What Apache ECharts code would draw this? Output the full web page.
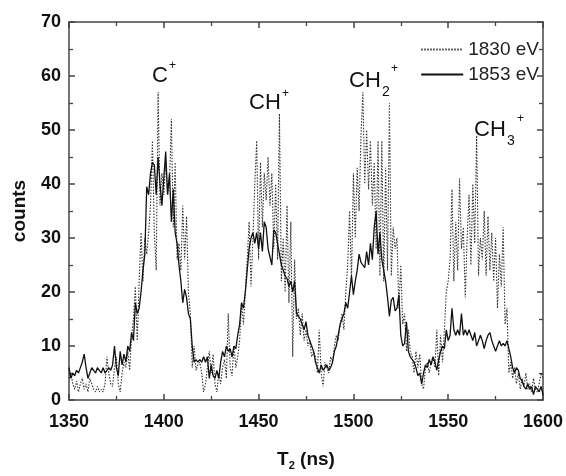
<!DOCTYPE html>
<html>
<head>
<meta charset="utf-8">
<script src="https://cdn.jsdelivr.net/npm/echarts@6/dist/echarts.min.js"></script>
<style>html,body{margin:0;padding:0;background:#fff}#c{width:566px;height:476px}</style>
</head>
<body>
<div id="c"></div>
<script>
// time grid: 1 ns steps from 1350 to 1600
var tStart = 1350;
var tStep = 1;

// 1830 eV (dotted)
var counts1830 = [
  4, 5, 3, 2, 3.5, 1.5, 3, 4, 2, 3,
  1.5, 4, 3, 2, 1.5, 2.5, 1.5, 2, 1.5, 3,
  8, 5, 3, 2.5, 6, 8, 3, 1.5, 5, 7,
  6, 9, 5.5, 12, 15, 21, 11, 22, 31, 22,
  30, 27, 31, 36, 48, 31, 24, 57, 36, 42,
  38, 44, 38, 40, 52, 32, 44, 26, 29, 24,
  36, 26, 34, 20, 16, 6, 10, 5.5, 6.5, 7,
  5, 1.5, 3, 6, 9, 5, 8.5, 3, 1.5, 5,
  3, 6, 7.5, 4, 16, 6, 4.5, 10, 6, 8,
  11, 18, 14, 20, 26, 33, 21, 30, 40, 48,
  26, 44, 32, 42, 37, 45, 36, 42, 28, 40,
  26, 53, 22, 30, 20, 36, 18, 33, 8, 26,
  15, 17, 12, 16, 11, 13, 10, 11, 8, 9,
  8, 5, 13, 5, 2.5, 7, 6, 5, 8, 7,
  10, 12, 11, 14, 16, 13, 20, 25, 35, 22,
  42, 30, 43, 35, 49, 57, 40, 50, 39, 48,
  36, 44, 28, 48, 23, 48, 22, 43, 24, 55,
  23, 32, 28, 30, 17, 25, 14, 16, 9, 13,
  9, 8, 5, 9, 6, 8.5, 3, 2, 6, 7,
  5, 7, 8, 6, 13, 4.5, 12, 7, 13, 20,
  22, 26, 39, 22, 33, 24, 41, 28, 32, 19,
  30, 38, 25, 40, 29, 49, 23, 30, 26, 35,
  23, 34, 24, 31, 22, 30, 17, 27, 21, 32,
  14, 17, 5, 7, 4, 6, 3, 5, 2, 4,
  2.5, 5, 2, 3, 1.5, 4, 2, 1.5, 3, 5,
  4
];

// 1853 eV (solid)
var counts1853 = [
  6, 4, 5, 4.5, 5.5, 5, 6, 7, 8.5, 6,
  4, 5, 6, 5.5, 5, 6, 5.5, 5, 6, 5,
  5.5, 6, 5.5, 6.5, 10, 6, 4.5, 9, 6.5, 8.5,
  7, 10, 9, 12.5, 11, 18, 16, 17, 20, 24,
  27, 39.5, 38, 42, 44, 43.5, 38, 45, 40, 36,
  41, 46, 38, 42, 33, 39, 31, 29, 25, 22,
  18, 20.5, 19, 16, 15, 10, 7, 7.5, 7, 7.5,
  7, 8, 7, 8, 4, 6.5, 4.5, 4, 5.5, 4,
  7, 9, 8, 10, 9, 9.5, 8, 10, 9.5, 12,
  14, 18, 17, 20, 24, 28, 30, 31, 29, 31,
  28, 31, 27.5, 33, 32, 28, 28, 25, 31.5, 31,
  31, 27, 25, 24, 23, 22.5, 21, 22, 20, 22,
  16, 15.5, 15, 14, 13, 14.5, 12, 11, 10, 9,
  7, 6, 5, 6.5, 5.5, 6, 6.5, 5.5, 6, 7,
  9, 10, 12, 14, 15, 16, 18, 17, 20, 23,
  19.5, 22, 24, 27, 25.5, 25, 24.5, 27.5, 25, 29,
  26, 32, 35, 27, 31, 26, 24, 22, 19, 15.5,
  18.5, 19, 16.5, 17, 19.5, 12, 10, 10.5, 14.5, 9,
  8, 7.5, 7, 6, 4.5, 5, 3, 5, 6.5, 6,
  7.5, 6.5, 8, 7, 5.5, 7.5, 9, 10, 9.5, 13,
  11, 12, 17, 13, 12, 13, 12, 16, 12, 13,
  12, 13, 12, 11, 12.5, 10, 11, 12, 11, 9.5,
  11, 12, 12.5, 11, 10, 9, 10, 11, 10, 10.5,
  10, 11, 9.5, 8, 6, 5, 6, 5.5, 4, 3.5,
  2.5, 2, 3, 2, 2.5, 1, 2.5, 2, 1.5, 2.5,
  1
];

var seriesNames = ['1830 eV', '1853 eV'];
var xTicks = [1350, 1400, 1450, 1500, 1550, 1600];
var yTicks = [0, 10, 20, 30, 40, 50, 60, 70];

function pairs(vals) {
  var out = [];
  for (var i = 0; i < vals.length; i++) out.push([tStart + i * tStep, vals[i]]);
  return out;
}

var FONT = '"Liberation Sans", Arial, Helvetica, sans-serif';
var axisCol = '#444';

var chart = echarts.init(document.getElementById('c'), null, {renderer: 'canvas'});

function plain(v) { return String(v); }

function xAxisCfg(pos, showLabel) {
  return {
    type: 'value', position: pos,
    min: xTicks[0], max: xTicks[xTicks.length - 1], interval: 50,
    name: showLabel ? 'T{sub|2} (ns)' : '',
    nameLocation: 'middle', nameGap: 48,
    nameTextStyle: {
      fontFamily: FONT, fontSize: 19, fontWeight: 'bold', color: '#111',
      verticalAlign: 'top',
      rich: {sub: {fontFamily: FONT, fontSize: 11, fontWeight: 'bold', color: '#111', padding: [12, 0, 0, 0]}}
    },
    axisLine: {show: true, onZero: false, lineStyle: {color: axisCol, width: 1.5}},
    axisTick: {show: true, inside: true, length: 6, lineStyle: {color: axisCol, width: 1.5}},
    minorTick: {show: true, splitNumber: 2, length: 4, lineStyle: {color: axisCol, width: 1.3}},
    axisLabel: {show: showLabel, margin: 13, formatter: plain, fontFamily: FONT, fontSize: 18, fontWeight: 'bold', color: '#111'},
    splitLine: {show: false}
  };
}
function yAxisCfg(pos, showLabel) {
  return {
    type: 'value', position: pos,
    min: yTicks[0], max: yTicks[yTicks.length - 1], interval: 10,
    name: showLabel ? 'counts' : '',
    nameLocation: 'middle', nameGap: 40,
    nameTextStyle: {fontFamily: FONT, fontSize: 19, fontWeight: 'bold', color: '#111'},
    axisLine: {show: true, onZero: false, lineStyle: {color: axisCol, width: 1.5}},
    axisTick: {show: true, inside: true, length: 6, lineStyle: {color: axisCol, width: 1.5}},
    minorTick: {show: true, splitNumber: 2, length: 4, lineStyle: {color: axisCol, width: 1.3}},
    axisLabel: {show: showLabel, margin: 8, formatter: plain, fontFamily: FONT, fontSize: 18, fontWeight: 'bold', color: '#111'},
    splitLine: {show: false}
  };
}

function txt(text, x, y, size) {
  return {
    type: 'text', x: x, y: y, silent: true,
    style: {text: text, fill: '#111', font: size + 'px ' + FONT, textAlign: 'left', textVerticalAlign: 'middle', align: 'left', verticalAlign: 'middle'}
  };
}

chart.setOption({
  backgroundColor: '#fff',
  animation: false,
  grid: {left: 69, right: 13, top: 22, bottom: 65, containLabel: false},
  xAxis: [xAxisCfg('bottom', true), xAxisCfg('top', false)],
  yAxis: [yAxisCfg('left', true), yAxisCfg('right', false)],
  legend: {
    orient: 'vertical', right: 22, top: 35,
    itemWidth: 42, itemHeight: 14, itemGap: 6,
    itemStyle: {opacity: 0, borderWidth: 0},
    textStyle: {fontFamily: FONT, fontSize: 19, color: '#222', padding: [0, 0, 0, 0]},
    data: seriesNames
  },
  series: [
    {
      name: seriesNames[0], type: 'line', data: pairs(counts1830),
      xAxisIndex: 0, yAxisIndex: 0,
      symbol: 'none', showSymbol: false,
      lineStyle: {color: '#333', width: 1.1, type: [1.5, 1.5]},
      itemStyle: {color: '#333'},
      z: 2
    },
    {
      name: seriesNames[1], type: 'line', data: pairs(counts1853),
      xAxisIndex: 0, yAxisIndex: 0,
      symbol: 'none', showSymbol: false,
      lineStyle: {color: '#111', width: 1.3, type: 'solid'},
      itemStyle: {color: '#111'},
      z: 3
    }
  ],
  graphic: [
    txt('C', 152, 76, 22), txt('+', 169, 66, 12),
    txt('CH', 249, 103, 22), txt('+', 282, 94, 12),
    txt('CH', 349, 81, 22), txt('2', 382, 92, 14), txt('+', 391, 69, 12),
    txt('CH', 474, 130, 22), txt('3', 507, 141, 14), txt('+', 517, 119, 12)
  ]
});
</script>
</body>
</html>
